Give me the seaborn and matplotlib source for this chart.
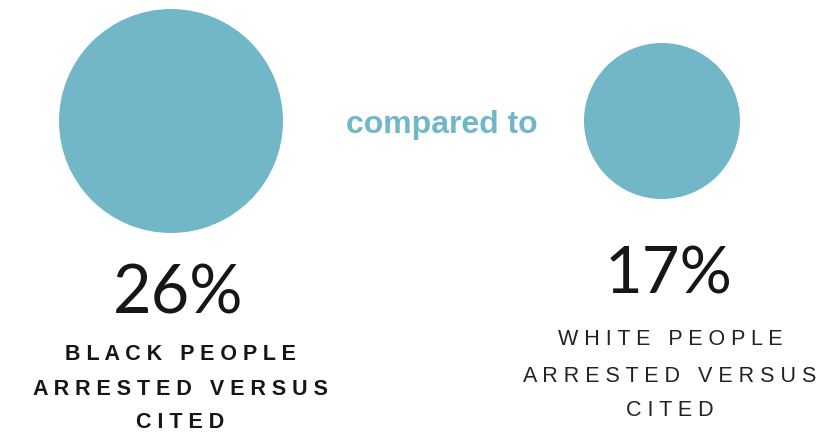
import matplotlib
matplotlib.use("Agg")
import matplotlib.pyplot as plt
import seaborn as sns
import pandas as pd

# Data
groups = ["Black people", "White people"]
shares = [26, 17]
value_labels = ["26%", "17%"]
captions = [
    ["BLACK PEOPLE", "ARRESTED VERSUS", "CITED"],
    ["WHITE PEOPLE", "ARRESTED VERSUS", "CITED"],
]
connector = "compared to"

TEAL = "#72b7c8"
INK = "#161616"
W, H = 819, 432

sns.set_theme(style="white")
plt.rcParams["font.family"] = ["Liberation Sans", "DejaVu Sans"]

fig = plt.figure(figsize=(W / 100, H / 100), dpi=100)
ax = fig.add_axes([0, 0, 1, 1])

df = pd.DataFrame({"group": groups, "share": shares, "row": [0, 0]})
sns.scatterplot(
    data=df, x="group", y="row", size="share",
    sizes=(12616, 26011), size_norm=(min(shares), max(shares)),
    color=TEAL, linewidth=0, legend=False, ax=ax,
)

# Place the two category slots at their pixel columns
c0, c1 = 171, 662
span = c1 - c0
ax.set_xlim(-c0 / span, 1 + (W - c1) / span)
cy = 121
ax.set_ylim(-(H - cy), cy)
ax.set_axis_off()


def px(x, y):
    return x / W, 1 - y / H


def tracked(s):
    return "   ".join(" ".join(word) for word in s.split(" "))


# Connector text
fig.text(*px(442, 133), connector, color=TEAL, fontsize=23,
         fontweight="bold", ha="center", va="baseline")

# Big percentages
fig.text(*px(178, 313), value_labels[0], color=INK, fontsize=48,
         family=["Lato", "DejaVu Sans"], ha="center", va="baseline")
fig.text(*px(669, 293), value_labels[1], color=INK, fontsize=47,
         family=["Lato", "DejaVu Sans"], ha="center", va="baseline")

# Captions
for line, base in zip(captions[0], [360, 395, 428]):
    fig.text(*px(180, base), tracked(line), color=INK, fontsize=15.5,
             fontweight="bold", ha="center", va="baseline")
for line, base in zip(captions[1], [345, 382, 416]):
    fig.text(*px(670, base), tracked(line), color="#222222", fontsize=15.5,
             ha="center", va="baseline")

fig.savefig("out.png", dpi=100, facecolor="white")
